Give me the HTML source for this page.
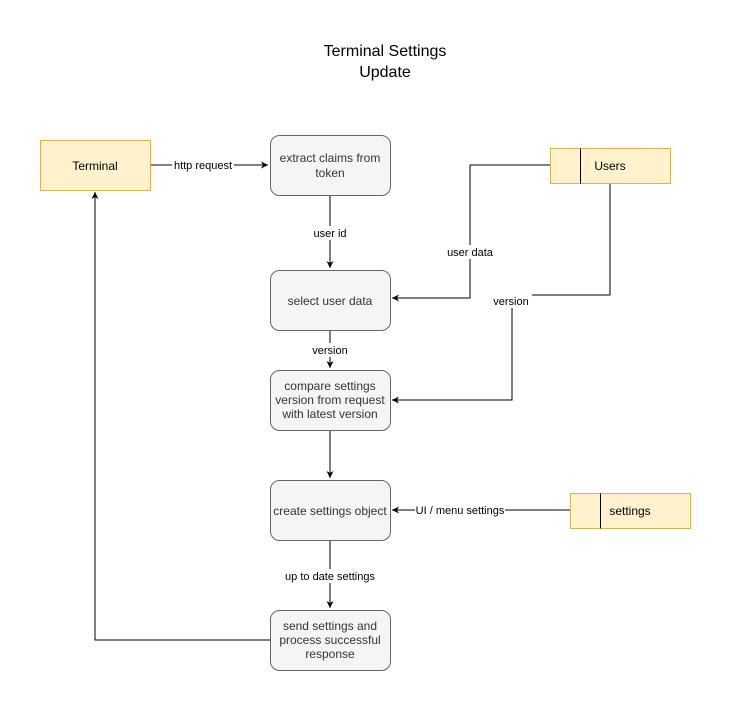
<!DOCTYPE html>
<html><head><meta charset="utf-8"><style>
body{margin:0;background:#fff;}
svg{display:block;font-family:"Liberation Sans",Helvetica,Arial,sans-serif;}
</style></head><body>
<svg width="731" height="711" viewBox="0 0 731 711" xmlns="http://www.w3.org/2000/svg">
<defs><marker id="a" markerWidth="10" markerHeight="10" refX="8" refY="5" orient="auto" markerUnits="userSpaceOnUse"><path d="M1,1.5 L8,5 L1,8.5 L3,5 Z" fill="#000"/></marker></defs>
<rect width="731" height="711" fill="#fff"/>
<text x="385" y="56" font-size="16" text-anchor="middle">Terminal Settings</text>
<text x="385" y="77" font-size="16" text-anchor="middle">Update</text>

<g stroke="#000" stroke-width="1" fill="none">
<path d="M150,165 L268,165" marker-end="url(#a)"/>
<path d="M330,195 L330,268" marker-end="url(#a)"/>
<path d="M550,165 L470,165 L470,298 L392,298" marker-end="url(#a)"/>
<path d="M610,183 L610,295 L512,295 L512,400 L392,400" marker-end="url(#a)"/>
<path d="M330,330 L330,368" marker-end="url(#a)"/>
<path d="M330,430 L330,478" marker-end="url(#a)"/>
<path d="M570,510 L392,510" marker-end="url(#a)"/>
<path d="M330,540 L330,608" marker-end="url(#a)"/>
<path d="M270,640 L95,640 L95,192" marker-end="url(#a)"/>
</g>

<rect x="40.5" y="140.5" width="110" height="50" fill="#fff2cc" stroke="#d6b656"/>
<text x="95" y="170" font-size="12" text-anchor="middle">Terminal</text>

<rect x="550.5" y="148.5" width="120" height="35" fill="#fff2cc" stroke="#d6b656"/>
<line x1="580.5" y1="148.5" x2="580.5" y2="183.5" stroke="#000"/>
<text x="610" y="170" font-size="12" text-anchor="middle">Users</text>

<rect x="570.5" y="493.5" width="120" height="35" fill="#fff2cc" stroke="#d6b656"/>
<line x1="600.5" y1="493.5" x2="600.5" y2="528.5" stroke="#000"/>
<text x="630" y="515" font-size="12" text-anchor="middle">settings</text>

<g fill="#f5f5f5" stroke="#666">
<rect x="270.5" y="135.5" width="120" height="60" rx="9"/>
<rect x="270.5" y="270.5" width="120" height="60" rx="9"/>
<rect x="270.5" y="370.5" width="120" height="60" rx="9"/>
<rect x="270.5" y="480.5" width="120" height="60" rx="9"/>
<rect x="270.5" y="610.5" width="120" height="60" rx="9"/>
</g>
<g font-size="12" text-anchor="middle" fill="#333">
<text x="330" y="162">extract claims from</text><text x="330" y="177">token</text>
<text x="330" y="305">select user data</text>
<text x="330" y="390">compare settings</text><text x="330" y="404">version from request</text><text x="330" y="418">with latest version</text>
<text x="330" y="515">create settings object</text>
<text x="330" y="630">send settings and</text><text x="330" y="644">process successful</text><text x="330" y="658">response</text>
</g>

<g font-size="11" text-anchor="middle">
<rect x="172" y="158" width="62" height="14" fill="#fff"/><text x="203" y="169">http request</text>
<rect x="312" y="226" width="36" height="14" fill="#fff"/><text x="330" y="237">user id</text>
<rect x="446" y="245" width="48" height="14" fill="#fff"/><text x="470" y="256">user data</text>
<rect x="492" y="294" width="40" height="14" fill="#fff"/><text x="511" y="305">version</text>
<rect x="311" y="343" width="38" height="14" fill="#fff"/><text x="330" y="354">version</text>
<rect x="415" y="503" width="90" height="14" fill="#fff"/><text x="460" y="514">UI / menu settings</text>
<rect x="283" y="569" width="94" height="14" fill="#fff"/><text x="330" y="580">up to date settings</text>
</g>
</svg>
</body></html>
